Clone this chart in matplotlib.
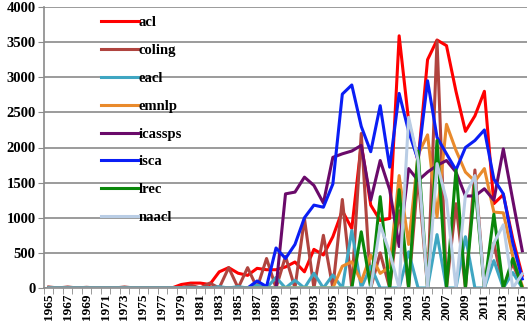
import matplotlib.pyplot as plt
import numpy as np

years = list(range(1965, 2016))

# values, 1965..2015
acl = [0] * 13 + [0, 50, 70, 70, 50, 230, 290, 210, 180, 280,
                  260, 260, 300, 370, 230, 550, 470, 730, 1100, 846,
                  2050, 1180, 960, 990, 3590, 2380, 1800, 3250, 3530, 3450,
                  2800, 2230, 2450, 2800, 1200, 1330, 700, 180]
coling = [15, 0, 15, 0, 10, 0, 0, 0, 15, 0, 0, 0, 0, 0, 0,
          40, 0, 70, 0, 290, 0, 290, 0, 420, 0, 450, 0, 990, 0, 750,
          0, 1260, 0, 2200, 0, 500, 0, 1100, 0, 1600, 0, 3520, 0, 1200,
          0, 1680, 0, 640, 0, 350, 0]
eacl = [0] * 18 + [20, 0, 20, 0, 40, 0, 150, 0, 110, 0, 210, 0, 185, 0,
                   820, 0, 310, 0, 0, 0, 515, 0, 0, 760, 0, 0, 730, 0, 0,
                   390, 0, 220, 0]
emnlp = [0] * 31 + [310, 373, 90, 468, 208, 300, 1600, 620, 1900, 2180,
                    1010, 2330, 1960, 1650, 1520, 1700, 1080, 1070, 450, 30]
icassps = [0] * 25 + [1340, 1365, 1578, 1460, 1210, 1860, 1910, 1950, 2030,
                      1250, 1815, 1400, 590, 1700, 1530, 1650, 1745, 1815,
                      1650, 1310, 1310, 1413, 1250, 1980, 1250, 530]
isca = [0] * 22 + [100, 20, 570, 420, 620, 1000, 1180, 1150, 1480, 2760,
                   2890, 2300, 1940, 2595, 1720, 2770, 2230, 1820, 2950,
                   2145, 1910, 1680, 2000, 2100, 2250, 1550, 1340, 640, 130]
lrec = [0] * 33 + [800, 0, 1300, 0, 1400, 0, 1950, 0, 2100, 0, 1680, 0,
                   1470, 0, 1050, 0, 420, 0]
naacl = [0] * 35 + [900, 500, 0, 2430, 1815, 0, 1770, 1250, 0, 1320, 1600,
                    0, 640, 900, 0, 200]

names = ['acl', 'coling', 'eacl', 'emnlp', 'icassps', 'isca', 'lrec', 'naacl']
series = [acl, coling, eacl, emnlp, icassps, isca, lrec, naacl]
colors = ['#FF0000', '#B0443F', '#3FA6C2', '#E98A2C', '#6A0A6A', '#0A1EF5',
          '#0A870A', '#B9CDE5']

plt.rcParams['font.family'] = ['Liberation Serif', 'DejaVu Serif']
plt.rcParams['font.weight'] = 'bold'

fig = plt.figure(figsize=(5.29, 3.30), dpi=100)
ax = fig.add_axes([44 / 529, 42 / 330, 483 / 529, 281 / 330])

x = np.arange(len(years))
for name, vals, c in zip(names, series, colors):
    ax.plot(x, vals, color=c, lw=2.2, label=name, solid_joinstyle='round')

ax.set_xlim(-0.3, 50.5)
ax.set_ylim(0, 4000)
ax.set_yticks(range(0, 4001, 500))
ax.yaxis.grid(True, color='#8a8a8a', lw=1.2)
ax.set_axisbelow(True)

ax.set_xticks(x[::2])
ax.set_xticklabels([str(y) for y in years[::2]], rotation=90, fontsize=9.5)
ax.set_xticks(x - 0.5, minor=True)
ax.tick_params(axis='x', which='major', length=0, pad=4)
ax.tick_params(axis='x', which='minor', length=4, color='#8a8a8a')
ax.tick_params(axis='y', length=4, color='#8a8a8a', labelsize=10.5, pad=2)

for s in ['top', 'right']:
    ax.spines[s].set_visible(False)
for s in ['left', 'bottom']:
    ax.spines[s].set_color('#8a8a8a')
    ax.spines[s].set_linewidth(1.2)

ax.legend(loc='upper left', bbox_to_anchor=(57 / 483, 0.967), frameon=False,
          borderpad=0, borderaxespad=0, handlelength=2.6, handletextpad=0.0,
          labelspacing=1.0, prop={'size': 10.5, 'weight': 'bold'})

fig.savefig('out.png', dpi=100)
